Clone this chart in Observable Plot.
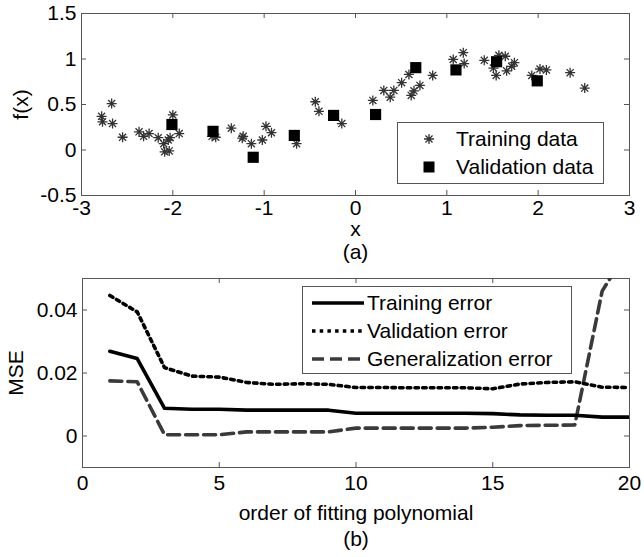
<!DOCTYPE html>
<html><head><meta charset="utf-8">
<script src="https://cdn.jsdelivr.net/npm/d3@7"></script>
<script src="https://cdn.jsdelivr.net/npm/@observablehq/plot@0.6"></script>
<style>
body{margin:0;background:#fff;font-family:"Liberation Sans",Arial,sans-serif;}
#wrap{position:relative;width:644px;height:557px;}
svg{display:block}
.legend{position:absolute;background:#fff;border:1px solid #555;box-sizing:border-box;font-size:21px;color:#000;}
.legend .row{position:absolute;left:0;height:28px;display:flex;align-items:center;white-space:nowrap;}
.legend svg{display:inline-block}
</style></head><body><div id="wrap"></div>
<script>
// ---- Panel (a) data ----
const trainX = [-2.78,-2.77,-2.67,-2.66,-2.55,-2.37,-2.32,-2.26,-2.16,-2.10,-2.09,-2.04,-2.05,-2.03,-2.00,-1.93,
  -1.57,-1.53,-1.36,-1.24,-1.23,-1.14,-1.02,-0.98,-0.92,-0.645,-0.44,-0.40,-0.15,
  0.19,0.31,0.38,0.42,0.505,0.585,0.61,0.64,0.705,0.845,1.07,1.18,1.19,1.41,1.51,1.54,1.57,1.64,1.655,1.71,1.74,1.93,2.02,2.09,2.35,2.51];
const trainY = [0.37,0.31,0.51,0.29,0.14,0.20,0.15,0.18,0.135,0.07,-0.02,-0.01,0.11,0.135,0.385,0.18,
  0.15,0.14,0.24,0.13,0.15,0.07,0.11,0.26,0.19,0.07,0.53,0.425,0.29,
  0.545,0.655,0.58,0.655,0.74,0.83,0.60,0.65,0.71,0.82,0.995,1.07,0.95,0.985,0.90,0.82,1.04,1.03,0.87,0.92,0.96,0.82,0.89,0.88,0.85,0.68];
const valX = [-2.01,-1.56,-1.12,-0.67,-0.24,0.22,0.66,1.10,1.545,1.99];
const valY = [0.28,0.205,-0.08,0.16,0.38,0.39,0.905,0.88,0.97,0.76];
const xTicksA = [-3,-2,-1,0,1,2,3];
const yTicksA = [-0.5,0,0.5,1,1.5];
const labelsA = {x:"x", y:"f(x)", panel:"(a)", train:"Training data", val:"Validation data"};

// ---- Panel (b) data ----
const order = [1,2,3,4,5,6,7,8,9,10,11,12,13,14,15,16,17,18,19,20];
const trainErr = [0.0269,0.0246,0.0088,0.0085,0.0085,0.0082,0.0082,0.0082,0.0082,0.0072,0.0072,0.0072,0.0072,0.0072,0.0071,0.0067,0.0066,0.0066,0.0060,0.0060];
const valErr = [0.0446,0.0394,0.0217,0.0190,0.0187,0.0170,0.0164,0.0166,0.0164,0.0154,0.0154,0.0153,0.0153,0.0153,0.0150,0.0165,0.0170,0.0172,0.0155,0.0154];
const genErr = [0.0175,0.0172,0.0004,0.0004,0.0004,0.0013,0.0013,0.0013,0.0013,0.0025,0.0025,0.0025,0.0025,0.0025,0.0028,0.0033,0.0034,0.0035,0.0460,0.0600];
const xTicksB = [0,5,10,15,20];
const yTicksB = [0,0.02,0.04];
const labelsB = {x:"order of fitting polynomial", y:"MSE", panel:"(b)", train:"Training error", val:"Validation error", gen:"Generalization error"};

const FRAME = "#555";
const FONT = {fontFamily:"'Liberation Sans', Arial, sans-serif", fontSize:"21px", color:"#000", background:"none", overflow:"visible"};
const fmt = d => String(d);

const star8 = {draw(ctx, size){
  const r = Math.sqrt(size/Math.PI), d = r*Math.SQRT1_2;
  ctx.moveTo(-r,0); ctx.lineTo(r,0); ctx.moveTo(0,-r); ctx.lineTo(0,r);
  ctx.moveTo(-d,-d); ctx.lineTo(d,d); ctx.moveTo(-d,d); ctx.lineTo(d,-d);
}};

function boxTicks(xt, yt, W, H, m, len){
  const fw = W - m.l - m.r, fh = H - m.t - m.b;
  return [
    Plot.ruleX(xt, {x: d=>d, insetTop: fh-len, stroke: FRAME}),
    Plot.ruleX(xt, {x: d=>d, insetBottom: fh-len, stroke: FRAME}),
    Plot.ruleY(yt, {y: d=>d, insetRight: fw-len, stroke: FRAME}),
    Plot.ruleY(yt, {y: d=>d, insetLeft: fw-len, stroke: FRAME})
  ];
}

const wrap = document.getElementById("wrap");

// ---- Panel (a) ----
const mA = {t:13, r:15, b:55, l:81};
const WA = 644, HA = 250;
const trainData = trainX.map((x,i)=>({x, y: trainY[i]}));
const valData = valX.map((x,i)=>({x, y: valY[i]}));
const plotA = Plot.plot({
  width: WA, height: HA,
  marginTop: mA.t, marginRight: mA.r, marginBottom: mA.b, marginLeft: mA.l,
  style: FONT,
  x: {domain:[-3,3]},
  y: {domain:[-0.5,1.5]},
  marks: [
    Plot.frame({stroke: FRAME}),
    ...boxTicks(xTicksA, yTicksA, WA, HA, mA, 5),
    Plot.axisX(xTicksA, {tickSize:0, tickPadding:5, tickFormat: fmt, label: null}),
    Plot.axisY(yTicksA, {tickSize:0, tickPadding:5, tickFormat: fmt, label: null}),
    Plot.dot(trainData, {x:"x", y:"y", symbol: star8, r:5, stroke:"#333", strokeWidth:1.3, fill:"none"}),
    Plot.dot(valData, {x:"x", y:"y", symbol:"square", r:6.3, fill:"#000", stroke:"none"}),
    Plot.text([labelsA.x], {text: d=>d, frameAnchor:"bottom", dy:34, lineAnchor:"middle"}),
    Plot.text([labelsA.panel], {text: d=>d, frameAnchor:"bottom", dy:57, lineAnchor:"middle"}),
    Plot.text([labelsA.y], {text: d=>d, frameAnchor:"left", dx:-60, rotate:-90, textAnchor:"middle", lineAnchor:"middle"})
  ]
});
wrap.appendChild(plotA);

// ---- Panel (b) ----
const mB = {t:28, r:15, b:90, l:82};
const WB = 644, HB = 307;
const errData = order.map((o,i)=>({o, tr: trainErr[i], va: valErr[i], ge: genErr[i]}));
const plotB = Plot.plot({
  width: WB, height: HB,
  marginTop: mB.t, marginRight: mB.r, marginBottom: mB.b, marginLeft: mB.l,
  style: FONT,
  x: {domain:[0,20]},
  y: {domain:[-0.01,0.05]},
  marks: [
    Plot.frame({stroke: FRAME}),
    ...boxTicks(xTicksB, yTicksB, WB, HB, mB, 5),
    Plot.axisX(xTicksB, {tickSize:0, tickPadding:8, tickFormat: fmt, label: null}),
    Plot.axisY(yTicksB, {tickSize:0, tickPadding:5, tickFormat: fmt, label: null}),
    Plot.line(errData, {x:"o", y:"ge", stroke:"#3a3a3a", strokeWidth:3.6, strokeDasharray:"12,6", clip:true}),
    Plot.line(errData, {x:"o", y:"va", stroke:"#000", strokeWidth:3.6, strokeDasharray:"3.5,4.2", clip:true}),
    Plot.line(errData, {x:"o", y:"tr", stroke:"#000", strokeWidth:3.6, clip:true}),
    Plot.text([labelsB.x], {text: d=>d, frameAnchor:"bottom", dy:46, lineAnchor:"middle"}),
    Plot.text([labelsB.panel], {text: d=>d, frameAnchor:"bottom", dy:72, lineAnchor:"middle"}),
    Plot.text([labelsB.y], {text: d=>d, frameAnchor:"left", dx:-66, rotate:-90, textAnchor:"middle", lineAnchor:"middle"})
  ]
});
wrap.appendChild(plotB);

// ---- Legends (HTML overlays) ----
function legendBox(left, top, w, h, rows){
  const box = document.createElement("div");
  box.className = "legend";
  Object.assign(box.style, {left:left+"px", top:top+"px", width:w+"px", height:h+"px"});
  rows.forEach(r => {
    const row = document.createElement("div");
    row.className = "row";
    row.style.top = (r.cy - 14) + "px";
    row.innerHTML = r.html;
    box.appendChild(row);
  });
  wrap.appendChild(box);
}
const starPath = (c, r) => {const d = r*Math.SQRT1_2; return `M${c-r},14H${c+r}M${c},${14-r}V${14+r}M${c-d},${14-d}L${c+d},${14+d}M${c-d},${14+d}L${c+d},${14-d}`;};
legendBox(397, 122, 207, 62, [
  {cy:16, html:`<svg width="58" height="28"><path d="${starPath(31,5)}" stroke="#333" stroke-width="1.3" fill="none"/></svg><span>${labelsA.train}</span>`},
  {cy:44, html:`<svg width="58" height="28"><rect x="25.5" y="8.5" width="11" height="11" fill="#000"/></svg><span>${labelsA.val}</span>`}
]);
const lineSample = (stroke, dash) => `<svg width="64" height="28"><line x1="9" x2="61" y1="14" y2="14" stroke="${stroke}" stroke-width="3.6" ${dash ? `stroke-dasharray="${dash}"` : ""}/></svg>`;
legendBox(302, 286, 270, 88, [
  {cy:16, html: lineSample("#000", null) + `<span>${labelsB.train}</span>`},
  {cy:44, html: lineSample("#000", "3.5,4.2") + `<span>${labelsB.val}</span>`},
  {cy:72, html: lineSample("#3a3a3a", "12,6") + `<span>${labelsB.gen}</span>`}
]);
</script>
</body></html>
